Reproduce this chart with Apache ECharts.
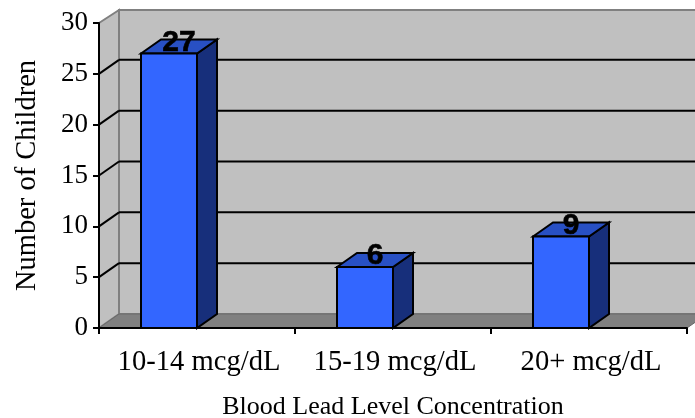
<!DOCTYPE html>
<html>
<head>
<meta charset="utf-8">
<style>
  html, body { margin: 0; padding: 0; background: #fff; }
  #chart { width: 695px; height: 418px; }
</style>
<script src="https://cdn.jsdelivr.net/npm/echarts@6/dist/echarts.min.js"></script>
</head>
<body>
<div id="chart"></div>
<script>
const categories = ['10-14 mcg/dL', '15-19 mcg/dL', '20+ mcg/dL'];
const children = [27, 6, 9];
const yTicks = [0, 5, 10, 15, 20, 25, 30];

// fake 3d offset of the excel box
const DX = 20;
const DY = 14;
const BAR_W = 56;
const SERIF = '"Liberation Serif", "Times New Roman", serif';

const poly = (points, fill, stroke, lineWidth) => ({
    type: 'polygon',
    shape: { points },
    style: { fill, stroke, lineWidth }
});
const seg = (x1, y1, x2, y2, stroke, lineWidth) => ({
    type: 'line',
    shape: { x1, y1, x2, y2 },
    style: { stroke, lineWidth }
});

function renderBox(params, api) {
    const cs = params.coordSys;
    const left = cs.x, right = cs.x + cs.width, top = cs.y, bottom = cs.y + cs.height;
    const children = [
        // back wall, side wall, floor
        poly([[left + DX, top - DY + 1], [right + DX, top - DY + 1], [right + DX, bottom - DY], [left + DX, bottom - DY]], '#c0c0c0', '#808080', 2),
        poly([[left, top], [left + DX, top - DY + 1], [left + DX, bottom - DY], [left, bottom]], '#c0c0c0', '#808080', 2),
        poly([[left, bottom], [left + DX, bottom - DY], [right + DX, bottom - DY], [right, bottom]], '#808080', '#6a6a6a', 1)
    ];
    yTicks.slice(1, -1).forEach(t => {
        const y = api.coord([0, t])[1];
        children.push(seg(left, y, left + DX, y - DY, '#000', 2));
        children.push(seg(left + DX, y - DY, right + DX, y - DY, '#000', 2));
    });
    return { type: 'group', children };
}

function renderBar(params, api) {
    const base = api.coord([api.value(0), 0]);
    const top = api.coord([api.value(0), api.value(1)]);
    const x0 = base[0] - BAR_W / 2 - 28;
    const x1 = x0 + BAR_W;
    const y0 = base[1];
    const y1 = top[1];
    return {
        type: 'group',
        children: [
            poly([[x1, y1], [x1 + DX, y1 - DY], [x1 + DX, y0 - DY], [x1, y0]], '#172f7b', '#000', 2),
            poly([[x0, y1], [x0 + DX, y1 - DY], [x1 + DX, y1 - DY], [x1, y1]], '#2850c4', '#000', 2),
            poly([[x0, y1], [x1, y1], [x1, y0], [x0, y0]], '#3366ff', '#000', 2),
            {
                type: 'text',
                style: {
                    x: (x0 + x1) / 2 + DX / 2,
                    y: y1 - DY + 3,
                    text: String(api.value(1)),
                    fill: '#000',
                    stroke: '#000',
                    lineWidth: 0.6,
                    font: 'bold 30px "Liberation Sans", Arial, sans-serif',
                    align: 'center',
                    verticalAlign: 'middle'
                }
            }
        ]
    };
}

const myChart = echarts.init(document.getElementById('chart'), null, { renderer: 'canvas' });

myChart.setOption({
    animation: false,
    backgroundColor: '#fff',
    grid: { left: 99, right: 8, top: 23, bottom: 90, outerBoundsMode: 'none' },
    xAxis: {
        type: 'category',
        data: categories,
        name: 'Blood Lead Level Concentration',
        nameLocation: 'middle',
        nameGap: 66,
        nameTextStyle: { fontFamily: SERIF, fontSize: 26, color: '#000' },
        axisLine: { show: true, onZero: false, lineStyle: { color: '#000', width: 2 } },
        axisTick: { show: true, alignWithLabel: false, length: 6, lineStyle: { color: '#000', width: 2 } },
        axisLabel: { fontFamily: SERIF, fontSize: 28.6, color: '#000', margin: 20, interval: 0, padding: [0, 0, 0, 4] },
        splitLine: { show: false },
        z: 5
    },
    yAxis: {
        type: 'value',
        min: 0,
        max: 30,
        interval: 5,
        name: 'Number of Children',
        nameLocation: 'middle',
        nameGap: 57,
        nameRotate: 90,
        nameTextStyle: { fontFamily: SERIF, fontSize: 28.5, color: '#000' },
        axisLine: { show: true, lineStyle: { color: '#000', width: 2 } },
        axisTick: { show: true, length: 6, lineStyle: { color: '#000', width: 2 } },
        axisLabel: { fontFamily: SERIF, fontSize: 27, color: '#000', margin: 11 },
        splitLine: { show: false },
        z: 5
    },
    series: [
        {
            type: 'custom',
            renderItem: renderBox,
            data: [[0, 0]],
            clip: false,
            silent: true,
            z: 1
        },
        {
            type: 'custom',
            renderItem: renderBar,
            encode: { x: 0, y: 1 },
            data: children.map((v, i) => [i, v]),
            clip: false,
            z: 2
        }
    ]
});

window.addEventListener('resize', myChart.resize);
</script>
</body>
</html>
